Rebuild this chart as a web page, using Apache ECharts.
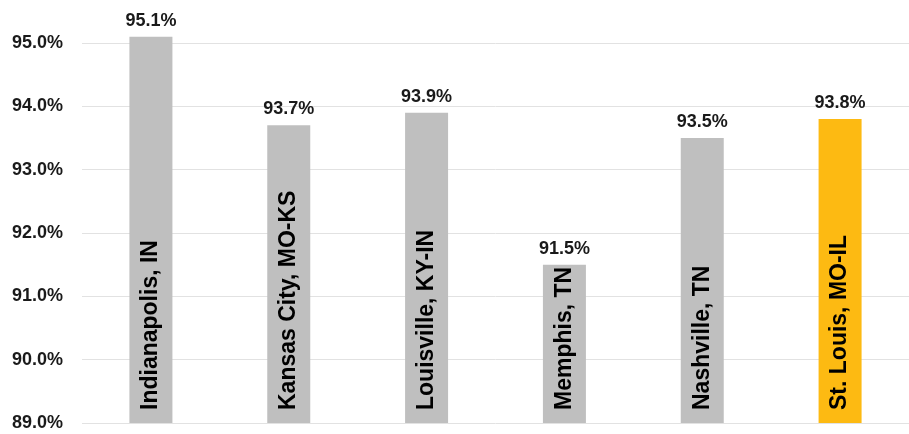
<!DOCTYPE html>
<html>
<head>
<meta charset="utf-8">
<script src="https://cdn.jsdelivr.net/npm/echarts@6/dist/echarts.min.js"></script>
<style>html,body{margin:0;padding:0;background:#fff}#c{width:909px;height:434px}</style>
</head>
<body>
<div id="c"></div>
<script>
const categories = ["Indianapolis, IN", "Kansas City, MO-KS", "Louisville, KY-IN", "Memphis, TN", "Nashville, TN", "St. Louis, MO-IL"];
const values = [95.1, 93.7, 93.9, 91.5, 93.5, 93.8];
const highlight = "St. Louis, MO-IL";
const yMin = 89, yMax = 95.1, yStep = 1;

const font = 'Liberation Sans, Arial, sans-serif';
const chart = echarts.init(document.getElementById('c'));
chart.setOption({
  animation: false,
  grid: { left: 82, right: 0, top: 36.7, bottom: 11, containLabel: false },
  xAxis: {
    type: 'category', data: categories,
    axisLine: { show: false }, axisTick: { show: false }, axisLabel: { show: false }
  },
  yAxis: {
    type: 'value', min: yMin, max: yMax, interval: yStep,
    axisLine: { show: false }, axisTick: { show: false },
    axisLabel: {
      showMaxLabel: false,
      formatter: v => v.toFixed(1) + '%',
      fontFamily: font, fontWeight: 'bold',
      fontSize: 18, color: '#1a1a1a', margin: 19
    },
    splitLine: { showMaxLine: false, lineStyle: { color: '#e2e2e2', width: 1 } }
  },
  series: [{
    type: 'bar', barWidth: 43,
    data: values.map((v, i) => ({
      value: v,
      itemStyle: { color: categories[i] === highlight ? '#FDBA12' : '#bfbfbf' }
    })),
    label: {
      show: true, position: 'top', distance: 7,
      formatter: p => p.value.toFixed(1) + '%',
      fontFamily: font, fontWeight: 'bold',
      fontSize: 18, color: '#1a1a1a'
    }
  }, {
    type: 'bar', barWidth: 43, barGap: '-100%', silent: true,
    data: values.map(v => ({ value: v, itemStyle: { color: 'transparent' } })),
    label: {
      show: true, position: 'insideBottom', rotate: 90, align: 'left', verticalAlign: 'middle',
      distance: 13,
      formatter: p => categories[p.dataIndex],
      fontFamily: font, fontWeight: 'bold',
      fontSize: 23, color: '#000'
    }
  }]
});
</script>
</body>
</html>
